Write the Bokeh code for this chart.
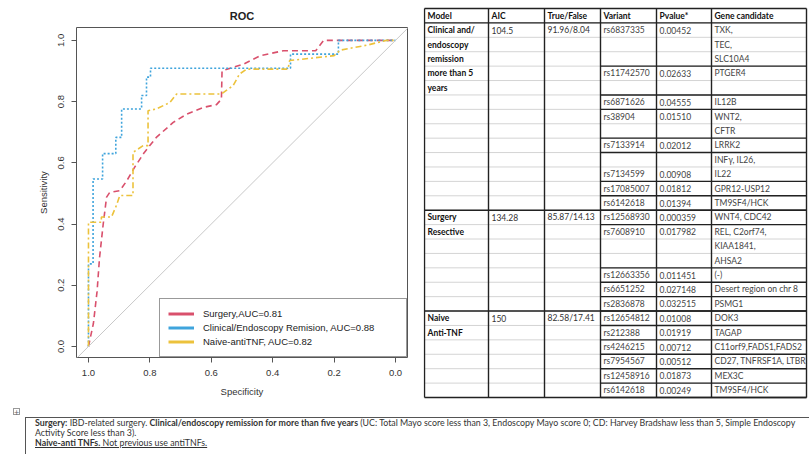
from bokeh.plotting import figure
from bokeh.models import (Range1d, ColumnDataSource, Slope, Legend, LegendItem,
                          CDSView, IndexFilter, Div, FixedTicker, PrintfTickFormatter)
from bokeh.layouts import row, column
from bokeh.embed import file_html
from bokeh.resources import INLINE
from bokeh.core.properties import value

# ---------------- ROC data (specificity, sensitivity) ----------------
surgery_spec = [1.0, 0.984, 0.972, 0.964, 0.952, 0.941, 0.931, 0.898, 0.876, 0.85, 0.818, 0.779,
                0.724, 0.68, 0.626, 0.583, 0.567, 0.565, 0.529, 0.496, 0.44, 0.365, 0.26, 0.234, 0.0]
surgery_sens = [0.0, 0.075, 0.18, 0.29, 0.40, 0.488, 0.503, 0.509, 0.54, 0.585, 0.634, 0.683,
                0.732, 0.759, 0.781, 0.79, 0.808, 0.90, 0.912, 0.922, 0.95, 0.966, 0.966, 1.0, 1.0]

clinical_spec = [1.0, 1.0, 0.985, 0.985, 0.954, 0.954, 0.911, 0.911, 0.892, 0.892, 0.827, 0.827,
                 0.811, 0.811, 0.798, 0.798, 0.342, 0.342, 0.186, 0.186, 0.0]
clinical_sens = [0.0, 0.27, 0.27, 0.547, 0.547, 0.63, 0.63, 0.683, 0.683, 0.776, 0.776, 0.82,
                 0.82, 0.88, 0.88, 0.909, 0.909, 0.955, 0.955, 1.0, 1.0]

naive_spec = [1.0, 1.0, 0.958, 0.958, 0.925, 0.909, 0.898, 0.855, 0.855, 0.822, 0.806, 0.806, 0.779,
              0.735, 0.713, 0.567, 0.529, 0.508, 0.485, 0.35, 0.345, 0.20, 0.18, 0.09, 0.03, 0.0]
naive_sens = [0.0, 0.406, 0.406, 0.423, 0.423, 0.461, 0.493, 0.493, 0.634, 0.656, 0.656, 0.77, 0.776,
              0.797, 0.825, 0.825, 0.852, 0.89, 0.906, 0.906, 0.934, 0.95, 0.968, 0.985, 1.0, 1.0]

legend_labels = ["Surgery,AUC=0.81", "Clinical/Endoscopy Remision, AUC=0.88", "Naive-antiTNF, AUC=0.82"]
x_ticks = [1.0, 0.8, 0.6, 0.4, 0.2, 0.0]
y_ticks = [0.0, 0.2, 0.4, 0.6, 0.8, 1.0]

# ---------------- Table data ----------------
header = ["Model", "AIC", "True/False", "Variant", "Pvalue*", "Gene candidate"]
models = [["Clinical and/", "endoscopy", "remission", "more than 5", "years"],
          ["Surgery", "Resective"],
          ["Naive", "Anti-TNF"]]
aic = ["104.5", "134.28", "150"]
true_false = ["91.96/8.04", "85.87/14.13", "82.58/17.41"]
variants = [["rs6837335", "rs11742570", "rs6871626", "rs38904", "rs7133914", "rs7134599", "rs17085007", "rs6142618"],
            ["rs12568930", "rs7608910", "rs12663356", "rs6651252", "rs2836878"],
            ["rs12654812", "rs212388", "rs4246215", "rs7954567", "rs12458916", "rs6142618"]]
pvalues = [["0.00452", "0.02633", "0.04555", "0.01510", "0.02012", "0.00908", "0.01812", "0.01394"],
           ["0.000359", "0.017982", "0.011451", "0.027148", "0.032515"],
           ["0.01008", "0.01919", "0.00712", "0.00512", "0.01873", "0.00249"]]
genes = [[["TXK,", "TEC,", "SLC10A4"], ["PTGER4", ""], ["IL12B"], ["WNT2,", "CFTR"], ["LRRK2"],
          ["INFγ, IL26,", "IL22"], ["GPR12-USP12"], ["TM9SF4/HCK"]],
         [["WNT4, CDC42"], ["REL, C2orf74,", "KIAA1841,", "AHSA2"], ["(-)"], ["Desert region on chr 8"], ["PSMG1"]],
         [["DOK3"], ["TAGAP"], ["C11orf9,FADS1,FADS2"], ["CD27, TNFRSF1A, LTBR"], ["MEX3C"], ["TM9SF4/HCK"]]]
variant_line_offset = [[0, 0, 0, 0, 0, 1, 0, 0], [0, 0, 0, 0, 0], [0, 0, 0, 0, 0, 0]]

RED, BLUE, YELLOW = "#d9506c", "#3fa4dc", "#ecc23c"
FONT = "Liberation Sans"

# ---------------- ROC figure ----------------
p = figure(width=423, height=405, x_range=Range1d(1.039, -0.039), y_range=Range1d(-0.036, 1.042),
           output_backend="svg", toolbar_location=None, title="ROC",
           min_border_left=76, min_border_right=16, min_border_top=27, min_border_bottom=48)
p.frame_align = False
p.title.align = "center"
p.title.text_font = FONT
p.title.text_font_size = "11px"
p.title.text_font_style = "bold"
p.title.text_color = "#222"
p.title.standoff = 11
p.grid.visible = False
p.outline_line_color = "#555"
p.background_fill_color = "white"
p.border_fill_color = "white"

p.xaxis.ticker = FixedTicker(ticks=x_ticks)
p.yaxis.ticker = FixedTicker(ticks=y_ticks)
for ax in (p.xaxis, p.yaxis):
    ax.formatter = PrintfTickFormatter(format="%.1f")
    ax.bounds = (0, 1)
    ax.minor_tick_line_color = None
    ax.major_tick_in = 0
    ax.major_tick_out = 5
    ax.axis_line_color = "#555"
    ax.major_tick_line_color = "#555"
    ax.major_label_text_font = FONT
    ax.major_label_text_font_size = "9.5px"
    ax.major_label_text_color = "#333"
    ax.axis_label_text_font = FONT
    ax.axis_label_text_font_size = "9.5px"
    ax.axis_label_text_font_style = "normal"
    ax.axis_label_text_color = "#333"
p.xaxis.axis_label = "Specificity"
p.yaxis.axis_label = "Sensitivity"
p.yaxis.major_label_orientation = "vertical"
p.xaxis.major_label_standoff = 7
p.yaxis.major_label_standoff = 7
p.xaxis.axis_label_standoff = 7
p.yaxis.axis_label_standoff = 7

p.add_layout(Slope(gradient=-1, y_intercept=1, line_color="#c8c8c8", line_width=1))

series = [(surgery_spec, surgery_sens, RED, "6 4"),
          (clinical_spec, clinical_sens, BLUE, "2 2"),
          (naive_spec, naive_sens, YELLOW, "6 3 2 3")]
items = []
for (sx, sy, col, dash), lab in zip(series, legend_labels):
    src = ColumnDataSource(dict(x=sx, y=sy))
    p.line("x", "y", source=src, line_color=col, line_width=1.6, line_dash=dash)
    # single-point view: draws nothing on the plot, supplies a solid legend swatch
    leg = p.line("x", "y", source=src, view=CDSView(filter=IndexFilter(indices=[0])),
                 line_color=col, line_width=3)
    items.append(LegendItem(label=lab, renderers=[leg]))

legend = Legend(items=items, location="bottom_right", margin=0, padding=8, spacing=1,
                glyph_width=26, glyph_height=13, label_standoff=9, label_height=13, label_width=195,
                label_text_font=FONT, label_text_font_size="9.5px", label_text_color="#222",
                border_line_color="#333", border_line_width=1, background_fill_alpha=1.0)
p.add_layout(legend)

# ---------------- Table figure ----------------
TW, TH = 386, 405
t = figure(width=TW, height=TH, x_range=Range1d(0, TW), y_range=Range1d(27.555, -0.555),
           output_backend="svg", toolbar_location=None, min_border=0,
           x_axis_location=None, y_axis_location=None)
t.frame_align = False
t.grid.visible = False
t.outline_line_color = None
t.background_fill_color = "white"
t.border_fill_color = "white"

cols = [1, 65, 121, 177, 233, 288, 383]
n_lines = 1 + sum(len(gl) for gg in genes for gl in gg)

thin = dict(x0=[], y0=[], x1=[], y1=[])
thick = dict(x0=[], y0=[], x1=[], y1=[])
for k in range(1, n_lines):
    for d, v in zip(("x0", "y0", "x1", "y1"), (cols[0], k, cols[-1], k)):
        thin[d].append(v)
for cx in cols:
    for d, v in zip(("x0", "y0", "x1", "y1"), (cx, 0, cx, n_lines)):
        thick[d].append(v)

def add_thick(xa, xb, yy):
    for d, v in zip(("x0", "y0", "x1", "y1"), (xa, yy, xb, yy)):
        thick[d].append(v)

add_thick(cols[0], cols[-1], 0)
add_thick(cols[0], cols[-1], 1)

bold_txt = dict(x=[], y=[], text=[])
norm_txt = dict(x=[], y=[], text=[])
var_txt = dict(x=[], y=[], text=[])
PAD = 3

def put(store, ci, line, s):
    store["x"].append(cols[ci] + PAD)
    store["y"].append(line + 0.5)
    store["text"].append(s)

for ci, h in enumerate(header):
    put(bold_txt, ci, 0, h)

line = 1
for g in range(len(models)):
    start = line
    for i, m in enumerate(models[g]):
        put(bold_txt, 0, start + i, m)
    put(norm_txt, 1, start, aic[g])
    put(norm_txt, 2, start, true_false[g])
    for v in range(len(variants[g])):
        put(var_txt, 3, line + variant_line_offset[g][v], variants[g][v])
        put(var_txt, 4, line + variant_line_offset[g][v], pvalues[g][v])
        for j, gn in enumerate(genes[g][v]):
            if gn:
                put(var_txt, 5, line + j, gn)
        line += len(genes[g][v])
        add_thick(cols[3], cols[-1], line)
    add_thick(cols[0], cols[-1], line)

t.segment("x0", "y0", "x1", "y1", source=ColumnDataSource(thin), line_color="#d4d4d4", line_width=1)
t.segment("x0", "y0", "x1", "y1", source=ColumnDataSource(thick), line_color="#222", line_width=1.4)

TF = value("Lato")
t.text("x", "y", "text", source=ColumnDataSource(bold_txt), text_font=TF, text_font_size="8.5px",
       text_font_style="bold", text_baseline="middle", text_color="#111")
t.text("x", "y", "text", source=ColumnDataSource(norm_txt), text_font=TF, text_font_size="8.5px",
       text_baseline="middle", text_color="#333")
t.text("x", "y", "text", source=ColumnDataSource(var_txt), text_font=TF, text_font_size="8.5px",
       text_baseline="middle", text_color="#444")

# ---------------- Footnote ----------------
foot_lines = [
    "<b>Surgery:</b> IBD-related surgery. <b>Clinical/endoscopy remission for more than five years</b> "
    "(UC: Total Mayo score less than 3, Endoscopy Mayo score 0; CD: Harvey Bradshaw less than 5, Simple Endoscopy",
    "Activity Score less than 3).",
    "<u><b>Naive-anti TNFs.</b> Not previous use antiTNFs.</u>",
]
html = ('<div style="position:relative;width:809px;height:49px;overflow:hidden;'
        'font-family:Lato,sans-serif;color:#333;background:white;">'
        '<div style="position:absolute;left:13px;top:3px;width:7px;height:7px;border:1px solid #999;'
        'font-size:9px;line-height:7px;text-align:center;color:#666;">+</div>'
        '<div style="position:absolute;left:25px;top:12px;width:800px;height:45px;border:1px solid #555;"></div>')
for i, ln in enumerate(foot_lines):
    html += ('<div style="position:absolute;left:35px;top:%dpx;white-space:nowrap;font-size:8.8px;'
             'line-height:10px;">%s</div>' % (13 + 10 * i, ln))
html += '</div>'
foot = Div(text=html, width=809, height=49, margin=0)

layout = column(row(p, t, spacing=0), foot, spacing=0)
open("out.html", "w").write(file_html(layout, INLINE))
